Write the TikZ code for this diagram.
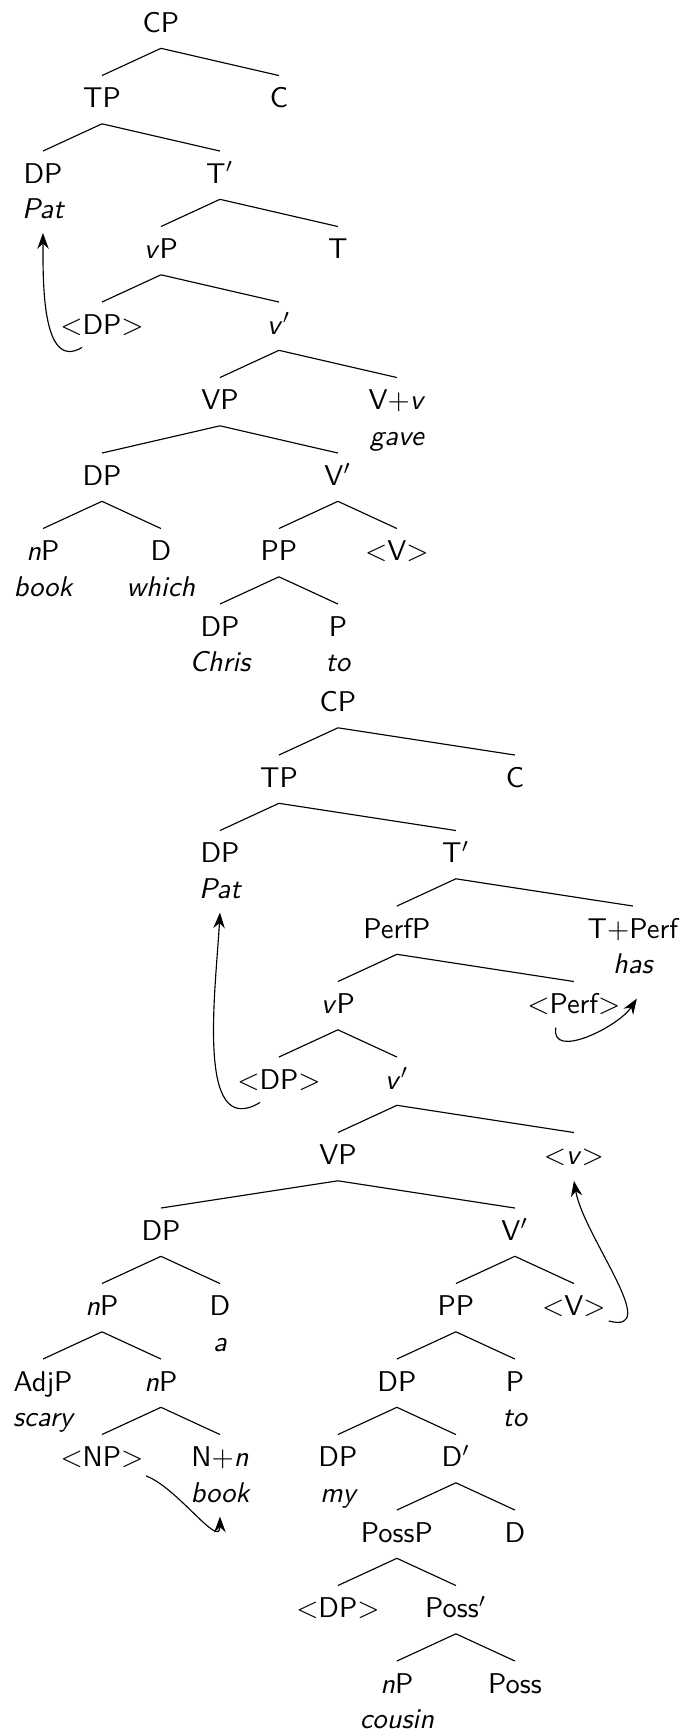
\documentclass[tikz,border=0pt]{standalone}
\usepackage{tikz}
\usetikzlibrary{arrows.meta}
\renewcommand{\familydefault}{\sfdefault}

\tikzset{
	cat/.style={anchor=base, inner sep=0pt, text height=11.1pt, text depth=5.4pt},
	word/.style={font=\itshape, inner sep=0pt, text height=6.6pt, text depth=4.8pt},
	move/.style={-{Stealth[length=5.5pt,width=4pt]}}
}

\begin{document}
\begin{tikzpicture}[x=20.65pt, y=-26.43pt]
	\useasboundingbox (-0.7288,-0.428) rectangle (10.915,22.526);
	% first tree
	\node[cat] (cpa) at (2,0) {CP};
	\node[cat] (tpa) at (1,1) {TP};
	\node[cat] (ca) at (4,1) {C};
	\node[cat, label={[word,name=pata]below:Pat}] (dpa) at (0,2) {DP};
	\node[cat] (tbara) at (3,2) {T$'$};
	\node[cat] (vpa) at (2,3) {\textit{v}P};
	\node[cat] (ta) at (5,3) {T};
	\node[cat] (tdpa) at (1,4) {$<$DP$>$};
	\node[cat] (vbara) at (4,4) {\textit{v}$'$};
	\node[cat] (vvpa) at (3,5) {VP};
	\node[cat, label={[word]below:gave}] (vva) at (6,5) {V+\textit{v}};
	\node[cat] (dpb) at (1,6) {DP};
	\node[cat] (vbarb) at (5,6) {V$'$};
	\node[cat, label={[word]below:book}] (npa) at (0,7) {\textit{n}P};
	\node[cat, label={[word]below:which}] (da) at (2,7) {D};
	\node[cat] (ppa) at (4,7) {PP};
	\node[cat] (tva) at (6,7) {$<$V$>$};
	\node[cat, label={[word]below:Chris}] (dpc) at (3,8) {DP};
	\node[cat, label={[word]below:to}] (pa) at (5,8) {P};

	\draw (cpa.south) -- (tpa.north) (cpa.south) -- (ca.north);
	\draw (tpa.south) -- (dpa.north) (tpa.south) -- (tbara.north);
	\draw (tbara.south) -- (vpa.north) (tbara.south) -- (ta.north);
	\draw (vpa.south) -- (tdpa.north) (vpa.south) -- (vbara.north);
	\draw (vbara.south) -- (vvpa.north) (vbara.south) -- (vva.north);
	\draw (vvpa.south) -- (dpb.north) (vvpa.south) -- (vbarb.north);
	\draw (dpb.south) -- (npa.north) (dpb.south) -- (da.north);
	\draw (vbarb.south) -- (ppa.north) (vbarb.south) -- (tva.north);
	\draw (ppa.south) -- (dpc.north) (ppa.south) -- (pa.north);

	\draw[move] ([xshift=-7pt,yshift=1pt]tdpa.south) to[out=211,in=-90] (pata.south);

	% second tree
	\node[cat] (cpb) at (5,9) {CP};
	\node[cat] (tpb) at (4,10) {TP};
	\node[cat] (cb) at (8,10) {C};
	\node[cat, label={[word,name=patb]below:Pat}] (dpd) at (3,11) {DP};
	\node[cat] (tbarb) at (7,11) {T$'$};
	\node[cat] (perfp) at (6,12) {PerfP};
	\node[cat, label={[word,name=hasw]below:has}] (tperf) at (10,12) {T+Perf};
	\node[cat] (vpb) at (5,13) {\textit{v}P};
	\node[cat] (tperfb) at (9,13) {$<$Perf$>$};
	\node[cat] (tdpb) at (4,14) {$<$DP$>$};
	\node[cat] (vbarc) at (6,14) {\textit{v}$'$};
	\node[cat] (vvpb) at (5,15) {VP};
	\node[cat] (tvv) at (9,15) {$<$\textit{v}$>$};
	\node[cat] (dpe) at (2,16) {DP};
	\node[cat] (vbard) at (8,16) {V$'$};
	\node[cat] (npb) at (1,17) {\textit{n}P};
	\node[cat, label={[word]below:a}] (db) at (3,17) {D};
	\node[cat] (ppb) at (7,17) {PP};
	\node[cat] (tvb) at (9,17) {$<$V$>$};
	\node[cat, label={[word]below:scary}] (adjp) at (0,18) {AdjP};
	\node[cat] (npc) at (2,18) {\textit{n}P};
	\node[cat] (dpf) at (6,18) {DP};
	\node[cat, label={[word]below:to}] (pb) at (8,18) {P};
	\node[cat] (tnp) at (1,19) {$<$NP$>$};
	\node[cat, label={[word,name=bookw]below:book}] (nn) at (3,19) {N+\textit{n}};
	\node[cat, label={[word]below:my}] (dpg) at (5,19) {DP};
	\node[cat] (dbar) at (7,19) {D$'$};
	\node[cat] (possp) at (6,20) {PossP};
	\node[cat] (dc) at (8,20) {D};
	\node[cat] (tdpc) at (5,21) {$<$DP$>$};
	\node[cat] (possbar) at (7,21) {Poss$'$};
	\node[cat, label={[word]below:cousin}] (npd) at (6,22) {\textit{n}P};
	\node[cat] (poss) at (8,22) {Poss};

	\draw (cpb.south) -- (tpb.north) (cpb.south) -- (cb.north);
	\draw (tpb.south) -- (dpd.north) (tpb.south) -- (tbarb.north);
	\draw (tbarb.south) -- (perfp.north) (tbarb.south) -- (tperf.north);
	\draw (perfp.south) -- (vpb.north) (perfp.south) -- (tperfb.north);
	\draw (vpb.south) -- (tdpb.north) (vpb.south) -- (vbarc.north);
	\draw (vbarc.south) -- (vvpb.north) (vbarc.south) -- (tvv.north);
	\draw (vvpb.south) -- (dpe.north) (vvpb.south) -- (vbard.north);
	\draw (dpe.south) -- (npb.north) (dpe.south) -- (db.north);
	\draw (vbard.south) -- (ppb.north) (vbard.south) -- (tvb.north);
	\draw (npb.south) -- (adjp.north) (npb.south) -- (npc.north);
	\draw (ppb.south) -- (dpf.north) (ppb.south) -- (pb.north);
	\draw (npc.south) -- (tnp.north) (npc.south) -- (nn.north);
	\draw (dpf.south) -- (dpg.north) (dpf.south) -- (dbar.north);
	\draw (dbar.south) -- (possp.north) (dbar.south) -- (dc.north);
	\draw (possp.south) -- (tdpc.north) (possp.south) -- (possbar.north);
	\draw (possbar.south) -- (npd.north) (possbar.south) -- (poss.north);

	\draw[move] ([xshift=-6.6pt,yshift=1pt]tdpb.south) to[out=211,in=-93] (patb.south);
	\draw[move] ([xshift=-6.3pt,yshift=0.8pt]tperfb.south) to[out=260,in=237] ([xshift=1.4pt,yshift=-3.7pt]hasw.south);
	\draw[move] ([xshift=0.9pt,yshift=-1.8pt]tvb.base east) to[out=-15,in=-80] (tvv.south);
	\draw[move] ([xshift=0.7pt,yshift=-3.2pt]tnp.base east) to[out=-20,in=-90] (bookw.south);
\end{tikzpicture}
\end{document}
